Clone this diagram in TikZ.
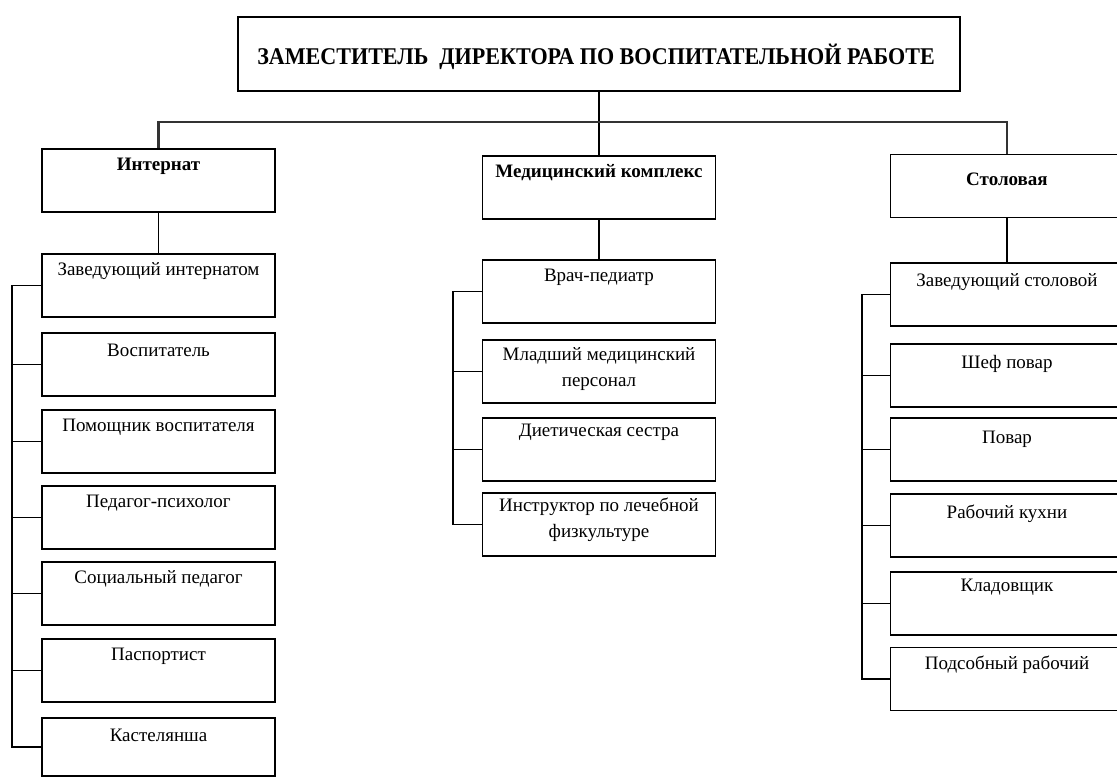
\documentclass[tikz,border=0pt]{standalone}
\usepackage{fontspec}
\setmainfont{Liberation Serif}
\usetikzlibrary{positioning}

\tikzset{
  unit/.style={draw, line width=1.8pt, minimum width=233pt, minimum height=63pt, inner sep=0pt},
  txt/.style={anchor=center, yshift=-18pt, align=center, font=\fontsize{19}{26}\selectfont},
  head/.style={txt, font=\fontsize{19}{26}\selectfont\bfseries},
  link/.style={line width=1.8pt}
}

\begin{document}
\begin{tikzpicture}[x=1pt, y=-1pt]
  \clip (0,0) rectangle (1117,778);

  % Deputy director
  \node[unit, minimum width=722pt, minimum height=74pt] (dir) at (599,54) {};
  \node[font=\fontsize{24}{28}\selectfont\bfseries, inner sep=0pt] (dirtxt) at (596,57) {\scalebox{0.92}[1]{ЗАМЕСТИТЕЛЬ\ \ ДИРЕКТОРА ПО ВОСПИТАТЕЛЬНОЙ РАБОТЕ}};

  % Departments
  \node[unit, label={[head]north:Интернат}] (it) at (158.5,180.5) {};
  \node[unit, label={[head]north:Медицинский комплекс}] (mk) at (599,187.5) {};
  \node[unit, label={[head, yshift=-8pt]north:Столовая}] (st) at (1007,186) {};

  % Internat staff
  \node[unit, label={[txt]north:Заведующий интернатом}] (zi) at (158.5,285.5) {};
  \node[unit, label={[txt]north:Воспитатель}] (vo) at (158.5,364.5) {};
  \node[unit, label={[txt]north:Помощник воспитателя}] (po) at (158.5,441.5) {};
  \node[unit, label={[txt]north:Педагог-психолог}] (pp) at (158.5,517.5) {};
  \node[unit, label={[txt]north:Социальный педагог}] (sp) at (158.5,593.5) {};
  \node[unit, label={[txt]north:Паспортист}] (pa) at (158.5,670.5) {};
  \node[unit, minimum height=58pt, label={[txt]north:Кастелянша}] (ka) at (158.5,747) {};

  % Medical staff
  \node[unit, label={[txt]north:Врач-педиатр}] (vp) at (599,291.5) {};
  \node[unit, label={[txt, yshift=-12pt]north:Младший медицинский\\персонал}] (mm) at (599,371.5) {};
  \node[unit, label={[txt, yshift=3pt]north:Диетическая сестра}] (ds) at (599,449.5) {};
  \node[unit, label={[txt, yshift=-10pt]north:Инструктор по лечебной\\физкультуре}] (in) at (599,524.5) {};

  % Canteen staff
  \node[unit, label={[txt, yshift=-2pt]north:Заведующий столовой}] (zs) at (1007,294.5) {};
  \node[unit, label={[txt, yshift=-3pt]north:Шеф повар}] (sh) at (1007,375.5) {};
  \node[unit, label={[txt, yshift=-4pt]north:Повар}] (pv) at (1007,449.5) {};
  \node[unit, label={[txt, yshift=-3pt]north:Рабочий кухни}] (rk) at (1007,525.5) {};
  \node[unit, label={[txt, yshift=2pt]north:Кладовщик}] (kl) at (1007,603.5) {};
  \node[unit, label={[txt]north:Подсобный рабочий}] (pr) at (1007,679) {};

  % Bus
  \coordinate (bus) at (599,122);
  \draw[link] (dir.south) -- (mk.north);
  \draw[link, black!80, line width=2.2pt] (it.north) |- (bus) -| (st.north);

  % Heads to first staff
  \draw[link] (it.south) -- (zi.north);
  \draw[link] (mk.south) -- (vp.north);
  \draw[link] (st.south) -- (zs.north);

  % Spines
  \coordinate (spI) at (12,0);
  \coordinate (spM) at (453,0);
  \coordinate (spS) at (862,0);
  \draw[link] (zi.west) -- (zi.west -| spI) -- (ka.west -| spI) -- (ka.west);
  \foreach \n in {vo,po,pp,sp,pa}
    \draw[link] (\n.west) -- (\n.west -| spI);
  \draw[link] (vp.west) -- (vp.west -| spM) -- (in.west -| spM) -- (in.west);
  \foreach \n in {mm,ds}
    \draw[link] (\n.west) -- (\n.west -| spM);
  \draw[link] (zs.west) -- (zs.west -| spS) -- (pr.west -| spS) -- (pr.west);
  \foreach \n in {sh,pv,rk,kl}
    \draw[link] (\n.west) -- (\n.west -| spS);
\end{tikzpicture}
\end{document}
